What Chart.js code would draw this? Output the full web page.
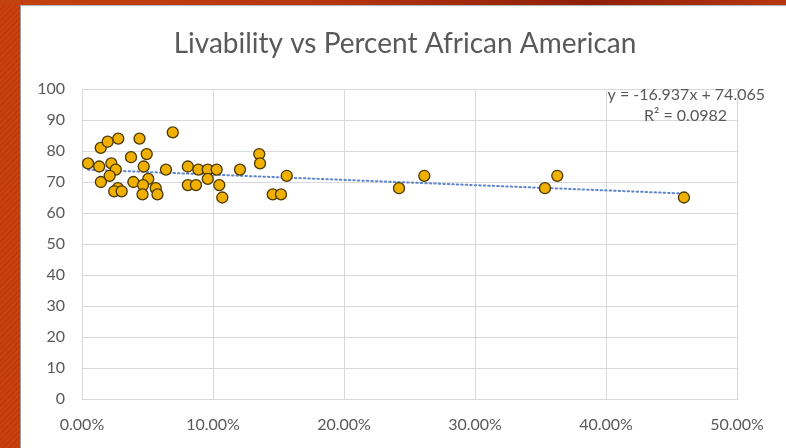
<!DOCTYPE html>
<html>
<head>
<meta charset="utf-8">
<script src="https://cdn.jsdelivr.net/npm/chart.js@4/dist/chart.umd.min.js"></script>
<style>
  html, body { margin: 0; padding: 0; }
  body {
    width: 786px; height: 448px; overflow: hidden; position: relative;
    background: repeating-linear-gradient(135deg, #c8420f 0px, #c8420f 2px, #bf3b0c 2px, #bf3b0c 4px);
  }
  .topband {
    position: absolute; left: 0; top: 0; width: 786px; height: 5px;
    background: linear-gradient(90deg, #c4420f 0%, #b8360c 40%, #8e2008 75%, #b8360c 100%);
  }
  .panel {
    position: absolute; left: 20px; top: 5px; width: 766px; height: 443px;
    background: #ffffff; border-left: 1px solid #9a9a9a; border-top: 1px solid #b5b5b5;
    box-sizing: border-box;
  }
  canvas { position: absolute; left: 0; top: 0; }
</style>
</head>
<body>
<div class="topband"></div>
<div class="panel"></div>
<canvas id="chart" width="786" height="448"></canvas>
<script>
// Share of African American residents (fraction) per city
const percentAfricanAmerican = [
  0.0046, 0.0143, 0.0196, 0.0277, 0.0439, 0.0693, 0.0131, 0.0224, 0.0258, 0.0374,
  0.0494, 0.0471, 0.0641, 0.0144, 0.0211, 0.0274, 0.0246, 0.0303, 0.0392, 0.0506,
  0.0466, 0.0462, 0.0563, 0.0576, 0.0808, 0.0808, 0.0870, 0.0888, 0.0960, 0.0960,
  0.1028, 0.1048, 0.1071, 0.1206, 0.1353, 0.1359, 0.1456, 0.1519, 0.1563, 0.2420,
  0.2613, 0.3534, 0.3628, 0.4595
];
// Livability score per city
const livabilityScore = [
  76, 81, 83, 84, 84, 86, 75, 76, 74, 78,
  79, 75, 74, 70, 72, 68, 67, 67, 70, 71,
  69, 66, 68, 66, 75, 69, 69, 74, 74, 71,
  74, 69, 65, 74, 79, 76, 66, 66, 72, 68,
  72, 68, 72, 65
];
// Linear trendline coefficients
const trendSlope = -16.937;
const trendIntercept = 74.065;
const trendR2 = 0.0982;

const chartTitle = 'Livability vs Percent African American';
const xTicks = [0, 0.1, 0.2, 0.3, 0.4, 0.5];
const yTicks = [0, 10, 20, 30, 40, 50, 60, 70, 80, 90, 100];

const points = percentAfricanAmerican.map((x, i) => ({ x: x, y: livabilityScore[i] }));
const xMin = Math.min(...percentAfricanAmerican);
const xMax = Math.max(...percentAfricanAmerican);
const trendPoints = [xMin, xMax].map(x => ({ x: x, y: trendSlope * x + trendIntercept }));

const textColor = '#595959';
const fontFamily = 'Lato, "Open Sans", sans-serif';

// Title centred over the white panel, plus the trendline equation and R²
const annotations = {
  id: 'annotations',
  afterDraw(chart) {
    const ctx = chart.ctx;
    const area = chart.chartArea;
    ctx.save();
    ctx.fillStyle = textColor;
    ctx.textBaseline = 'middle';

    ctx.font = '28px ' + fontFamily;
    ctx.textAlign = 'center';
    ctx.fillText(chartTitle, 405, 44);

    ctx.font = '16px ' + fontFamily;
    ctx.textAlign = 'right';
    const sign = trendIntercept >= 0 ? '+' : '-';
    ctx.fillText('y = ' + trendSlope.toFixed(3) + 'x ' + sign + ' ' + Math.abs(trendIntercept).toFixed(3), area.right + 28, area.top + 6);
    ctx.fillText('R\u00B2 = ' + trendR2.toFixed(4), area.right - 10, area.top + 27);
    ctx.restore();
  }
};

new Chart(document.getElementById('chart'), {
  type: 'scatter',
  data: {
    datasets: [
      {
        label: 'Livability',
        data: points,
        pointRadius: 5.5,
        pointHoverRadius: 5.5,
        pointBackgroundColor: '#f0b000',
        pointBorderColor: '#4a3800',
        pointBorderWidth: 1.3,
        order: 1
      },
      {
        type: 'line',
        label: 'Linear trend',
        data: trendPoints,
        borderColor: 'rgba(68,114,196,0.85)',
        borderWidth: 2,
        borderDash: [1.5, 3],
        borderCapStyle: 'round',
        pointRadius: 0,
        fill: false,
        order: 2
      }
    ]
  },
  options: {
    responsive: false,
    animation: false,
    layout: { padding: { left: 0, right: 49, top: 89, bottom: 0 } },
    plugins: {
      legend: { display: false },
      tooltip: { enabled: false },
      title: { display: false }
    },
    scales: {
      x: {
        type: 'linear',
        min: 0,
        max: 0.5,
        afterFit(scale) { scale.height = 49; },
        afterBuildTicks(scale) { scale.ticks = xTicks.map(v => ({ value: v })); },
        grid: { color: '#d9d9d9', drawTicks: false },
        border: { color: '#d9d9d9' },
        ticks: {
          color: textColor,
          font: { family: fontFamily, size: 16 },
          padding: 16,
          maxRotation: 0,
          callback: v => (v * 100).toFixed(2) + '%'
        }
      },
      y: {
        type: 'linear',
        min: 0,
        max: 100,
        afterFit(scale) { scale.width = 82; },
        afterBuildTicks(scale) { scale.ticks = yTicks.map(v => ({ value: v })); },
        grid: { color: '#d9d9d9', drawTicks: false },
        border: { color: '#d9d9d9' },
        ticks: {
          color: textColor,
          font: { family: fontFamily, size: 16 },
          padding: 17
        }
      }
    }
  },
  plugins: [annotations]
});
</script>
</body>
</html>
